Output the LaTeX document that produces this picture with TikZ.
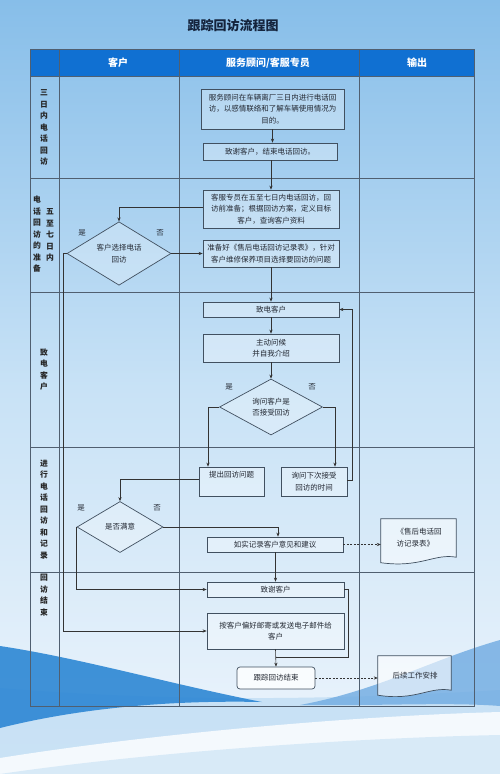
\documentclass[tikz,border=0pt]{standalone}
\usepackage{fontspec}
\setmainfont{Noto Sans CJK SC}
\usetikzlibrary{arrows.meta,shapes.geometric,calc}
\definecolor{bgtop}{RGB}{135,190,233}
\definecolor{bgmid}{RGB}{200,226,246}
\definecolor{bgbot}{RGB}{238,245,252}
\definecolor{hdr}{RGB}{16,112,210}
\definecolor{tline}{RGB}{80,95,112}
\definecolor{bline}{RGB}{65,80,96}
\definecolor{txt}{RGB}{35,40,50}
\definecolor{wdark}{RGB}{45,135,212}
\definecolor{wmid}{RGB}{110,170,225}
\definecolor{wlight}{RGB}{190,220,243}
\begin{document}
\begin{tikzpicture}[x=1pt,y=-1pt,
  box/.style={draw=bline, line width=0.7pt, fill=white, fill opacity=0.3, text opacity=1,
    text=txt, font=\fontsize{7.5}{11.5}\selectfont, align=center, inner sep=1pt},
  dia/.style={diamond, draw=bline, line width=0.7pt, fill=white, fill opacity=0.25, text opacity=1,
    text=txt, font=\fontsize{7.5}{11.5}\selectfont, align=center, inner sep=0pt},
  conn/.style={draw=black!80, line width=0.6pt},
  arr/.style={conn, -{Stealth[length=4pt,width=3.2pt]}},
  darr/.style={arr, dashed, dash pattern=on 2pt off 1.5pt},
  lab/.style={font=\fontsize{7.5}{9}\selectfont, text=txt},
  lane/.style={font=\fontsize{7.8}{11.5}\selectfont\bfseries, text=black!85, align=center, inner sep=0pt},
  hd/.style={font=\fontsize{10}{12}\selectfont\bfseries, text=white}
]
\useasboundingbox (0,0) rectangle (500,774);
% background
\shade[top color=bgtop, bottom color=bgbot, middle color=bgmid] (0,0) rectangle (500,774);
\fill[wlight, opacity=0.75] (0,688) .. controls (150,700) and (300,702) .. (500,690) -- (500,774) -- (0,774) -- cycle;
\fill[wmid, opacity=0.8] (500,640) .. controls (430,660) and (380,690) .. (300,705) .. controls (380,706) and (450,702) .. (500,706) -- cycle;
\fill[wdark, opacity=0.9] (0,646) .. controls (80,658) and (170,684) .. (262,702) .. controls (170,700) and (80,708) .. (0,728) -- cycle;
\fill[white, opacity=0.8] (0,758) .. controls (150,734) and (350,716) .. (500,712) -- (500,774) -- (0,774) -- cycle;
\fill[wlight, opacity=0.5] (0,774) .. controls (150,752) and (350,738) .. (500,735) -- (500,774) -- cycle;

% title
\node[font=\fontsize{13}{15}\selectfont\bfseries, text={rgb,255:red,20;green,35;blue,60}] (title) at (233,26) {跟踪回访流程图};

% table
\fill[hdr] (30,49) rectangle (474,76);
\draw[tline, line width=0.6pt] (30,49) rectangle (474,706);
\foreach \x in {59,179,359} \draw[tline, line width=0.6pt] (\x,49) -- (\x,706);
\foreach \y in {76,178,292,447,572} \draw[tline, line width=0.6pt] (30,\y) -- (474,\y);
\node[hd] (h1) at (118,63) {客户};
\node[hd] (h2) at (268,63) {服务顾问/客服专员};
\node[hd] (h3) at (417,63) {输出};

% lane labels
\node[lane] (r1) at (44,127.5) {三\\日\\内\\电\\话\\回\\访};
\node[lane] (r2a) at (37,234.5) {电\\话\\回\\访\\的\\准\\备};
\node[lane] (r2b) at (50,235) {五\\至\\七\\日\\内};
\node[lane] (r3) at (44,369.5) {致\\电\\客\\户};
\node[lane] (r4) at (44,509.5) {进\\行\\电\\话\\回\\访\\和\\记\\录};
\node[lane] (r5) at (44,595) {回\\访\\结\\束};

% nodes
\node[box, minimum width=143pt, minimum height=40pt] (b1) at (272.5,109) {服务顾问在车辆离厂三日内进行电话回\\访，以感情联络和了解车辆使用情况为\\目的。};
\node[box, minimum width=134pt, minimum height=17pt] (b2) at (270,151.5) {致谢客户，结束电话回访。};
\node[box, minimum width=136pt, minimum height=38pt] (b3) at (271,209) {客服专员在五至七日内电话回访，回\\访前准备；根据回访方案，定义目标\\客户，查询客户资料};
\node[box, minimum width=136pt, minimum height=27pt] (b4) at (271,253.5) {准备好《售后电话回访记录表》，针对\\客户维修保养项目选择要回访的问题};
\node[dia, minimum width=104pt, minimum height=61pt] (d1) at (119,253.5) {客户选择电话\\回访};
\node[box, minimum width=136pt, minimum height=15pt] (b5) at (271,309.5) {致电客户};
\node[box, minimum width=136pt, minimum height=28pt] (b6) at (271,348) {主动问候\\并自我介绍};
\node[dia, minimum width=103pt, minimum height=56pt] (d2) at (271,407) {询问客户是\\否接受回访};
\node[box, minimum width=65pt, minimum height=29pt, text depth=15pt] (b7) at (231.5,481.5) {提出回访问题};
\node[box, minimum width=66pt, minimum height=29pt] (b8) at (314,481.5) {询问下次接受\\回访的时间};
\node[dia, minimum width=86pt, minimum height=51pt] (d3) at (120,527) {是否满意};
\node[box, minimum width=136pt, minimum height=15pt] (b9) at (275,544.5) {如实记录客户意见和建议};
\node[box, minimum width=137pt, minimum height=15pt] (b10) at (275.5,589.5) {致谢客户};
\node[box, minimum width=137pt, minimum height=36pt] (b11) at (275.5,631) {按客户偏好邮寄或发送电子邮件给\\客户};
\node[box, rounded corners=3pt, fill opacity=0.8, minimum width=78pt, minimum height=22pt] (b12) at (276,678) {跟踪回访结束};

% documents
\node[minimum width=75pt, minimum height=45pt, inner sep=0pt] (doc1) at (418.5,541.5) {};
\draw[bline, line width=0.7pt, fill=white, fill opacity=0.5] (doc1.north west) -- (doc1.north east) -- ($(doc1.south east)+(0,-7)$) .. controls ($(doc1.south east)+(-22,-11)$) and ($(doc1.south west)+(40,4)$) .. ($(doc1.south west)+(0,-1.5)$) -- cycle;
\node[font=\fontsize{7.5}{11.5}\selectfont, text=txt, align=left, anchor=west] (doc1t) at (393,537.5) {《售后电话回\\访记录表》};

\node[minimum width=73pt, minimum height=41pt, inner sep=0pt] (doc2) at (414.5,676.5) {};
\draw[bline, line width=0.7pt, fill=white, fill opacity=0.6] (doc2.north west) -- (doc2.north east) -- ($(doc2.south east)+(0,-7)$) .. controls ($(doc2.south east)+(-22,-11)$) and ($(doc2.south west)+(38,4)$) .. ($(doc2.south west)+(0,-2)$) -- cycle;
\node[font=\fontsize{7.5}{11.5}\selectfont, text=txt] (doc2t) at (415,676) {后续工作安排};

% labels
\node[lab] (y1) at (82,233) {是};
\node[lab] (n1) at (160,233) {否};
\node[lab] (y2) at (229,387) {是};
\node[lab] (n2) at (312,387) {否};
\node[lab] (y3) at (81,508) {是};
\node[lab] (n3) at (157,508) {否};

% coordinates
\coordinate (l1) at (63,253.5);
\coordinate (k1) at (208,407);
\coordinate (k2) at (335,407);
\coordinate (k3) at (352,480);
\coordinate (k4) at (278,527);
\coordinate (k5) at (348,657);
\coordinate (k6) at (276,657);

% connectors
\draw[arr] (b1.south) -- (b1.south |- b2.north);
\draw[arr] (b3.north |- b2.south) -- (b3.north);
\draw[arr] (b3.west |- 0,207) -| (d1.north);
\draw[arr] (d1.east) -- (b4.west |- d1.east);
\draw[arr] (d1.west) -- (l1) |- (b11.west);
\draw[arr] (b4.south) -- (b5.north);
\draw[arr] (b5.south) -- (b6.north);
\draw[arr] (b6.south) -- (d2.north);
\draw[arr] (d2.west) -- (k1) -- (k1 |- b7.north);
\draw[arr] (d2.east) -- (k2) -- (k2 |- b8.north);
\draw[arr] (b8.east |- k3) -- (k3) |- (b5.east);
\draw[arr] (b7.west |- 0,479) -| (d3.north);
\draw[arr] (d3.east) -- (k4) -- (k4 |- b9.north);
\draw[arr] (d3.west) |- (b10.west);
\draw[arr] (b10.north |- b9.south) -- (b10.north);
\draw[conn] (b10.east) -- (b10.east -| k5) -- (k5) -- (k6);
\draw[arr] (b11.south) -- (b12.north);
\draw[darr] (b9.east) -- (b9.east -| doc1.west);
\draw[darr] (b12.east) -- (b12.east -| doc2.west);
\end{tikzpicture}
\end{document}
